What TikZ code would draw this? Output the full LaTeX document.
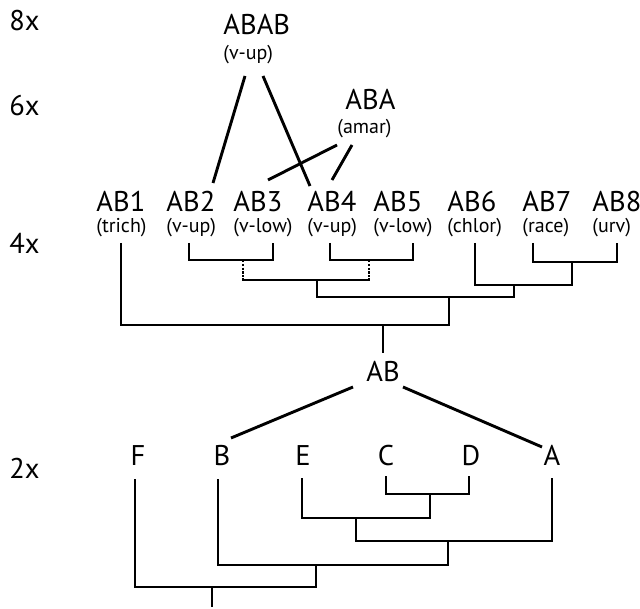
\documentclass[tikz,border=0pt]{standalone}
\usepackage{fontspec}
\setmainfont{PT Sans}
\begin{document}
\begin{tikzpicture}[x=1pt,y=-1pt,line width=2.9pt,line join=miter,
  big/.style={font=\fontsize{28.5}{28.5}\selectfont,inner sep=0pt,anchor=base west},
  bigc/.style={font=\fontsize{28.5}{28.5}\selectfont,inner sep=0pt,anchor=base},
  small/.style={font=\fontsize{20}{20}\selectfont,inner sep=0pt,anchor=base west},
  dots/.style={dash pattern=on 2.2pt off 1.6pt}]
\useasboundingbox (0,0) rectangle (640,609);
% level labels
\node[big] (L8) at (8,31) {8x};
\node[big] (L6) at (8,116) {6x};
\node[big] (L4) at (8,254) {4x};
\node[big] (L2) at (8,478) {2x};
% top
\node[big] (ABAB) at (222,35) {ABAB};
\node[small] (ABABl) at (222,60) {(v-up)};
\node[big] (ABA) at (344,110) {ABA};
\node[small] (ABAl) at (336,134) {(amar)};
% 4x row
\foreach \n/\x/\l in {1/95/(trich),2/165/(v-up),3/232/(v-low),4/306/(v-up),5/372/(v-low),6/446/(chlor),7/521/(race),8/591/(urv)}{
  \node[big] (AB\n) at (\x,212) {AB\n};
  \node[small] (AB\n l) at (\x,233) {\l};
}
\node[bigc] (AB) at (383,382) {AB};
\foreach \n/\x in {F/138,B/222,E/303,C/386,D/471,A/552}{
  \node[bigc] (\n) at (\x,465) {\n};
}
% connector end points
\coordinate (ababL) at (245,76); \coordinate (ababR) at (263,76);
\coordinate (ab2t) at (213,183); \coordinate (ab4t) at (310,186);
\coordinate (abaL) at (337,145); \coordinate (abaR) at (352,145);
\coordinate (ab3t) at (268,180); \coordinate (ab4t2) at (332,180);
\draw (ababL) -- (ab2t);
\draw (ababR) -- (ab4t);
\draw (abaL) -- (ab3t);
\draw (abaR) -- (ab4t2);
% 4x tree
\coordinate (l1) at (121,243); \coordinate (l2) at (189,243);
\coordinate (l3) at (273,243); \coordinate (l4) at (330,243);
\coordinate (l5) at (413,243); \coordinate (l6) at (475,243);
\coordinate (l7) at (533,243); \coordinate (l8) at (617,243);
\coordinate (j23) at (243,260); \coordinate (j45) at (369,260);
\coordinate (j2345) at (317,280);
\coordinate (j78) at (572,262); \coordinate (j678) at (514,285);
\coordinate (jmid) at (449,297); \coordinate (jroot) at (383,325);
\coordinate (abtop) at (383,353);
\draw (l2) |- (j23) -| (l3);
\draw (l4) |- (j45) -| (l5);
\draw[dots] (j23) -- (j23 |- j2345);
\draw[dots] (j45) -- (j45 |- j2345);
\draw ([yshift=1.5pt]j23 |- j2345) -- (j23 |- j2345) -- (j45 |- j2345) -- ([yshift=1.5pt]j45 |- j2345);
\draw (l7) |- (j78) -| (l8);
\draw (l6) |- (j678) -| (j78);
\draw (j2345) |- (jmid) -| (j678);
\draw (l1) |- (jroot) -| (jmid);
\draw (jroot) -- (abtop);
% AB to B and A
\coordinate (abBL) at (353,387); \coordinate (bTop) at (231,438);
\coordinate (abAR) at (403,387); \coordinate (aTop) at (542,447);
\draw (abBL) -- (bTop);
\draw (abAR) -- (aTop);
% 2x tree
\coordinate (lF) at (135,479); \coordinate (lB) at (218,479);
\coordinate (lE) at (302,478); \coordinate (lC) at (386,476);
\coordinate (lD) at (469,476); \coordinate (lA) at (552,478);
\coordinate (jCD) at (430,494); \coordinate (jECD) at (356,518);
\coordinate (jEA) at (448,541); \coordinate (jBE) at (316,565);
\coordinate (jFB) at (212,587); \coordinate (rootend) at (212,607);
\draw (lC) |- (jCD) -| (lD);
\draw (lE) |- (jECD) -| (jCD);
\draw (jECD) |- (jEA) -| (lA);
\draw (lB) |- (jBE) -| (jEA);
\draw (lF) |- (jFB) -| (jBE);
\draw (jFB) -- (rootend);
\end{tikzpicture}
\end{document}
